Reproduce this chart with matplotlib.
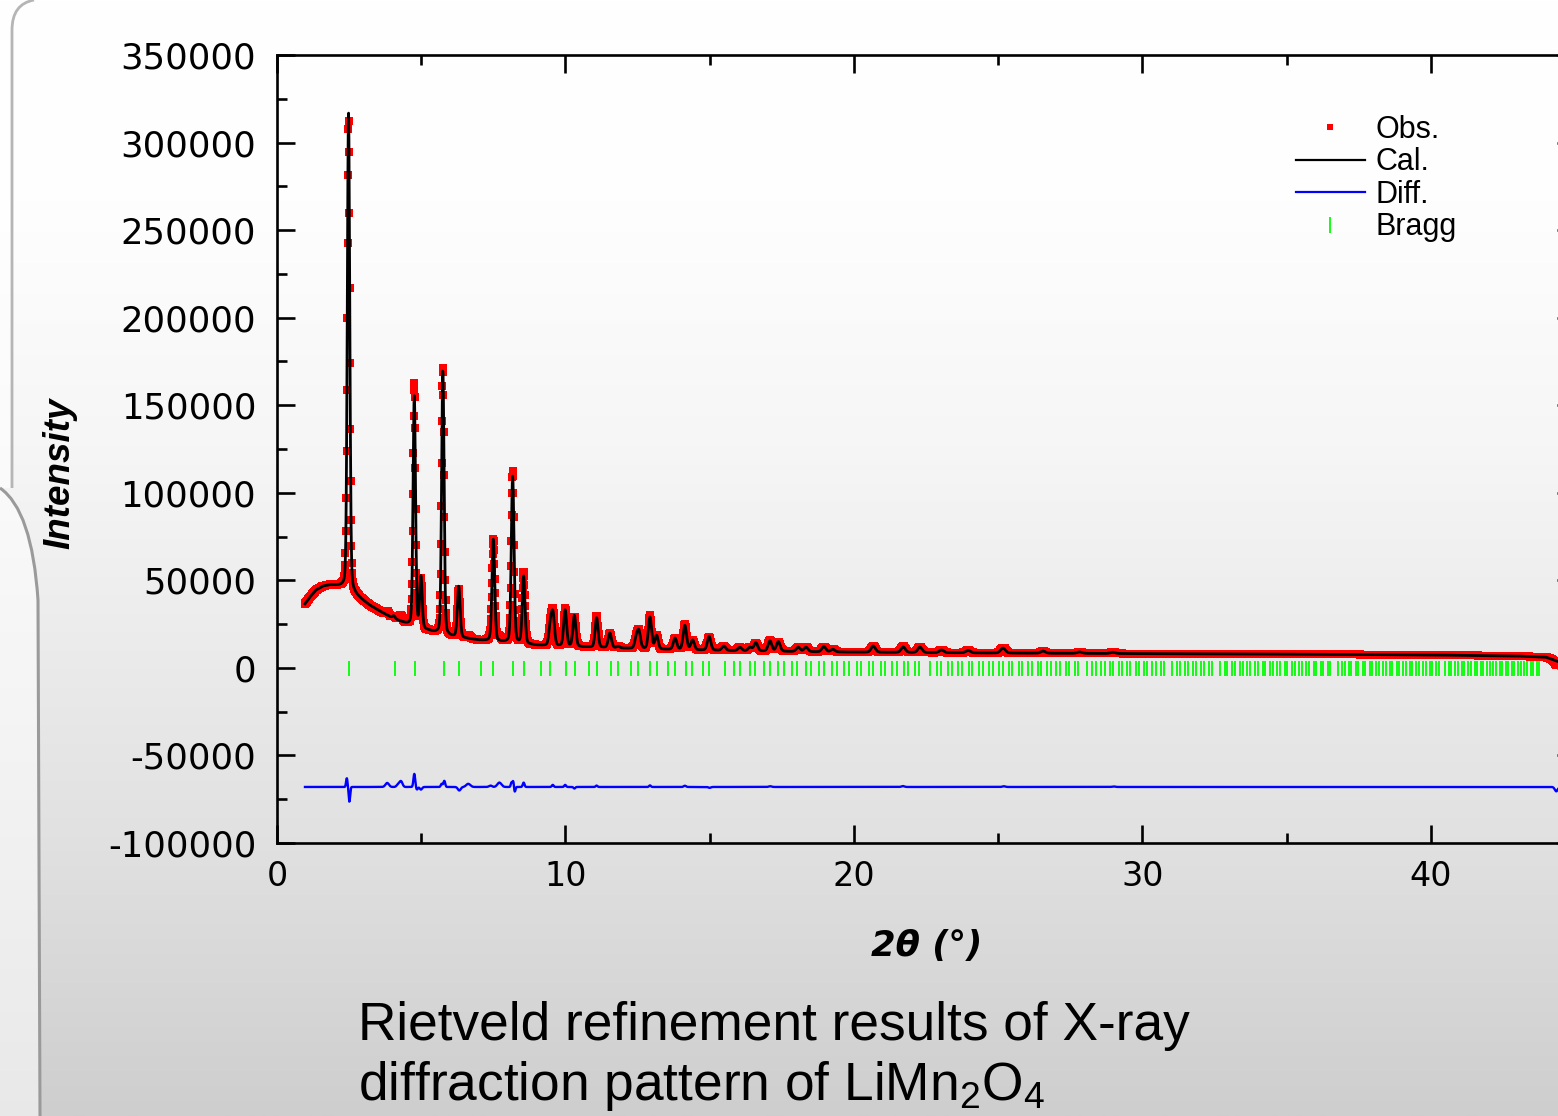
import numpy as np
import matplotlib
matplotlib.use("Agg")
import matplotlib.pyplot as plt
from matplotlib.lines import Line2D
from matplotlib.path import Path
from matplotlib.patches import PathPatch

plt.rcParams['axes.unicode_minus'] = False
plt.rcParams['mathtext.fontset'] = 'custom'
plt.rcParams['mathtext.rm'] = 'Liberation Sans'
plt.rcParams['mathtext.it'] = 'Liberation Sans:italic'

# ---------------- data ----------------
# background knots (2theta, intensity)
bg_x = [0.97, 1.15, 1.35, 1.6, 1.85, 2.1, 2.3, 2.6, 2.9, 3.2, 3.6, 4.0, 4.5, 5.0, 5.5,
        6.0, 7.0, 8.0, 9.0, 10.0, 12.0, 14.0, 16.0, 18.0, 20.0, 22.0, 25.0, 28.0,
        32.0, 36.0, 40.0, 43.0, 44.0, 44.42]
bg_y = [36500, 40500, 44300, 46600, 47300, 46700, 45800, 43000, 39400, 35800, 32000,
        28400, 25000, 22300, 20000, 18000, 15800, 14500, 12900, 12300, 11200, 10300,
        9800, 9300, 9000, 8800, 8500, 8300, 8000, 7800, 7400, 6800, 6100, 3600]

# calculated peaks: position (deg), net height, FWHM (deg)
peak_pos = [2.48, 4.05, 4.76, 4.99, 5.75, 6.30, 7.50, 8.17, 8.55, 9.48, 9.57, 9.99,
            10.31, 11.08, 11.54, 11.83, 12.46, 12.55, 12.93, 13.16, 13.80, 14.14,
            14.41, 14.98, 15.49, 16.05, 16.40, 16.60, 17.09, 17.38, 18.07, 18.34,
            18.96, 19.27, 20.67, 21.71, 22.29, 23.04, 23.96, 25.17, 26.56, 27.83, 28.98]
peak_h = [273000, 1500, 131600, 29000, 151000, 29000, 58200, 95000, 38600, 12000,
          17000, 20700, 17700, 16900, 8400, 900, 6000, 9000, 18100, 7700, 6500, 13900,
          5500, 8000, 2500, 1900, 2000, 4700, 5800, 5500, 2500, 2500, 3000, 1500, 3600,
          3100, 3100, 1500, 1400, 2800, 1200, 800, 700]
peak_w = [0.10, 0.11, 0.10, 0.10, 0.10, 0.11, 0.11, 0.11, 0.11, 0.12, 0.12, 0.12,
          0.12, 0.12, 0.13, 0.13, 0.13, 0.13, 0.13, 0.13, 0.14, 0.14, 0.14, 0.14,
          0.15, 0.15, 0.15, 0.15, 0.15, 0.15, 0.16, 0.16, 0.16, 0.16, 0.17, 0.17,
          0.17, 0.18, 0.18, 0.19, 0.19, 0.20, 0.20]

# observed - calculated residual features: position, amplitude, sigma
res_pos = [2.42, 2.51, 3.82, 4.20, 4.30, 4.76, 4.85, 4.99, 5.71, 5.80, 6.32, 6.63,
           7.40, 7.71, 8.13, 8.19, 8.24, 8.55, 9.56, 9.99, 10.31, 11.08, 12.93,
           14.14, 15.00, 17.10, 21.70, 25.20, 29.00, 44.35]
res_amp = [5000, -8500, 2300, 1500, 3200, 7500, -1500, -1500, 1800, 3500, -2000, 1800,
           800, 2500, 2500, 3500, -3000, 2500, 1200, 1200, -900, 800, 900, 700, -500,
           400, 500, 400, 300, -2500]
res_sig = [0.025, 0.025, 0.06, 0.05, 0.05, 0.03, 0.03, 0.04, 0.03, 0.03, 0.05, 0.07,
           0.05, 0.07, 0.025, 0.025, 0.025, 0.03, 0.03, 0.03, 0.03, 0.03, 0.03, 0.04,
           0.04, 0.05, 0.05, 0.05, 0.05, 0.05]
diff_offset = -68000

# Bragg reflections of the spinel (Fd-3m) phase: 2theta(111) and upper limit
bragg_first = 2.50
bragg_last = 43.83

x_start, x_end, x_step = 0.97, 44.42, 0.012

x_ticks = [0, 10, 20, 30, 40]
y_ticks = [-100000, -50000, 0, 50000, 100000, 150000, 200000, 250000, 300000, 350000]

caption1 = "Rietveld refinement results of X-ray"
caption2 = "diffraction pattern of LiMn$_2$O$_4$"

# ---------------- build profiles ----------------
tt = np.arange(x_start, x_end, x_step)
bg = np.interp(tt, bg_x, bg_y)
cal = bg.copy()
eta = 0.2
for p, h, w in zip(peak_pos, peak_h, peak_w):
    g = np.exp(-4 * np.log(2) * ((tt - p) / w) ** 2)
    l = 1.0 / (1 + 4 * ((tt - p) / w) ** 2)
    cal += h * ((1 - eta) * g + eta * l)
res = np.zeros_like(tt)
for p, a, s in zip(res_pos, res_amp, res_sig):
    res += a * np.exp(-0.5 * ((tt - p) / s) ** 2)
obs = cal + res
diff = diff_offset + res

s1 = np.sin(np.radians(bragg_first / 2))
Ns = set()
for h in range(0, 40):
    for k in range(0, h + 1):
        for l in range(0, k + 1):
            if h == k == l == 0:
                continue
            allodd = (h % 2 == 1 and k % 2 == 1 and l % 2 == 1)
            alleven = (h % 2 == 0 and k % 2 == 0 and l % 2 == 0 and (h + k + l) % 4 == 0)
            if allodd or alleven:
                Ns.add(h * h + k * k + l * l)
Ns = np.array(sorted(Ns))
sv = s1 * np.sqrt(Ns / 3.0)
sv = sv[sv < 1]
bragg = 2 * np.degrees(np.arcsin(sv))
bragg = bragg[bragg <= bragg_last]

# ---------------- figure ----------------
W, H = 1558, 1116
fig = plt.figure(figsize=(W / 100, H / 100), dpi=100)

bgax = fig.add_axes([0, 0, 1, 1])
stops_y = [0.0, 0.18, 0.40, 0.60, 0.75, 1.0]
stops_c = [255, 254, 246, 234, 225, 206]
yy = np.linspace(0, 1, 600)
col = np.interp(yy, stops_y, stops_c) / 255.0
grad = np.repeat(col[:, None, None], 3, axis=2)
bgax.imshow(grad, extent=[0, 1, 0, 1], aspect='auto', origin='upper', zorder=0)
bgax.set_xlim(0, 1)
bgax.set_ylim(0, 1)
bgax.axis('off')


def P(px, py):
    return (px / W, 1 - py / H)


# left decorative panel edges
verts = [P(0, 488), P(32, 510), P(38, 600), P(40, 1116), P(0, 1116), P(0, 488)]
codes = [Path.MOVETO, Path.CURVE3, Path.CURVE3, Path.LINETO, Path.LINETO, Path.CLOSEPOLY]
bgax.add_patch(PathPatch(Path(verts, codes), facecolor='white', alpha=0.55,
                         edgecolor='none', zorder=1))
verts2 = [P(0, 488), P(32, 510), P(38, 600), P(40, 1116)]
codes2 = [Path.MOVETO, Path.CURVE3, Path.CURVE3, Path.LINETO]
bgax.add_patch(PathPatch(Path(verts2, codes2), facecolor='none', edgecolor='#9a9a9a',
                         lw=2.2, zorder=2))
verts3 = [P(34, 0), P(12, 4), P(12, 30), P(12, 488)]
codes3 = [Path.MOVETO, Path.CURVE3, Path.CURVE3, Path.LINETO]
bgax.add_patch(PathPatch(Path(verts3, codes3), facecolor='none', edgecolor='#b5b5b5',
                         lw=2.0, zorder=2))
bgax.add_patch(plt.Rectangle(P(0, 488), 12 / W, 488 / H, facecolor='white',
                             alpha=0.6, edgecolor='none', zorder=1))

ax = fig.add_axes([277 / W, 1 - 843 / H, (1575 - 277) / W, (843 - 55) / H])
ax.patch.set_alpha(0)
ax.set_xlim(0, 45)
ax.set_ylim(-100000, 350000)

ax.plot(tt, obs, linestyle='none', marker='s', markersize=5.4, color='#ff0000',
        markeredgewidth=0, zorder=2)
ax.plot(tt, cal, color='black', lw=2.0, zorder=3)
ax.plot(tt, diff, color='#0000ff', lw=1.7, zorder=3)
ax.vlines(bragg, -4500, 4000, color='#00ff00', lw=1.3, zorder=2)

ax.set_xticks(x_ticks)
ax.set_xticks([5, 15, 25, 35, 45], minor=True)
ax.set_yticks(y_ticks)
ax.set_yticks(np.arange(-75000, 350000, 50000), minor=True)
ax.set_yticklabels([str(v) for v in y_ticks])
ax.set_xticklabels([str(v) for v in x_ticks])
for s in ax.spines.values():
    s.set_linewidth(1.9)
ax.tick_params(which='both', direction='in', top=True, right=True, width=1.9)
ax.tick_params(which='major', length=13)
ax.tick_params(which='minor', length=7)
ax.tick_params(axis='y', which='major', pad=15, labelsize=25.5)
ax.tick_params(axis='x', which='major', pad=12, labelsize=24)
for t in ax.get_yticklabels() + ax.get_xticklabels():
    t.set_fontfamily('DejaVu Sans')

fig.text(60 / W, 1 - 473 / H, 'Intensity', rotation=90, ha='center', va='center',
         fontsize=26.5, fontweight='bold', style='italic',
         family=['Liberation Sans Narrow', 'Liberation Sans'])
fig.text(927 / W, 1 - 946 / H, '2θ (°)', ha='center', va='center', fontsize=25.5,
         fontweight='bold', style='italic', family='DejaVu Sans')

fig.text(358 / W, 1 - 1040 / H, caption1, ha='left', va='baseline', fontsize=38.3,
         family='Liberation Sans')
fig.text(358 / W, 1 - 1100 / H, caption2, ha='left', va='baseline', fontsize=38.3,
         family='Liberation Sans')

handles = [
    Line2D([], [], linestyle='none', marker='s', markersize=5, color='#ff0000',
           markeredgewidth=0),
    Line2D([], [], color='black', lw=1.6),
    Line2D([], [], color='#0000ff', lw=1.6),
    Line2D([], [], linestyle='none', marker='|', markersize=11, color='#00ff00',
           markeredgewidth=1.3),
]
fig.legend(handles, ['Obs.', 'Cal.', 'Diff.', 'Bragg'], loc='upper left',
           bbox_to_anchor=(1296 / W, 1 - 115 / H), bbox_transform=fig.transFigure,
           frameon=False, prop={'family': 'Liberation Sans', 'size': 22},
           handlelength=2.25, handletextpad=0.35, labelspacing=0.08,
           borderpad=0, borderaxespad=0)

fig.savefig('out.png', dpi=100)
